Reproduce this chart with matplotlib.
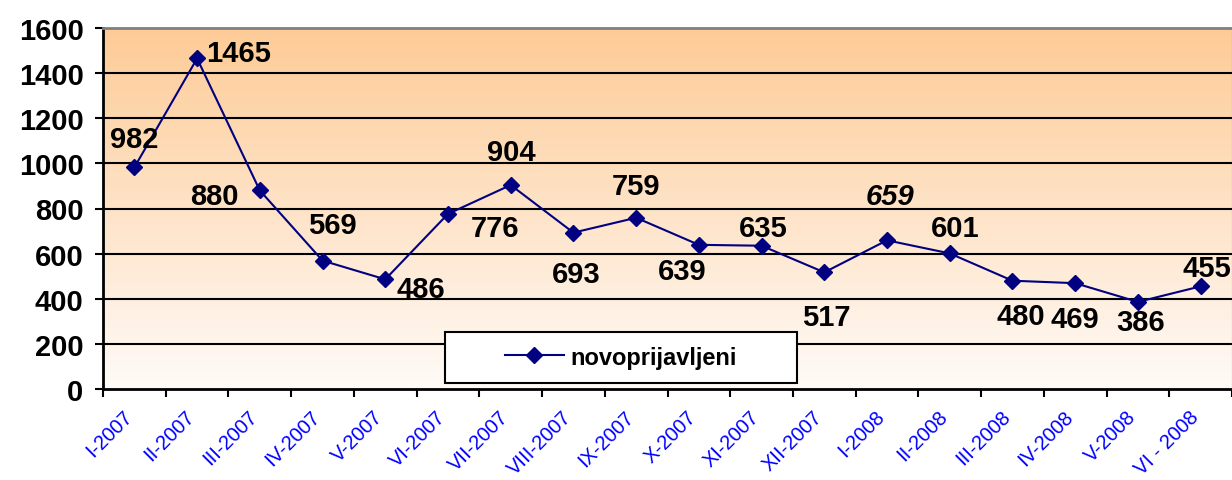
import numpy as np
import matplotlib
matplotlib.use("Agg")
import matplotlib.pyplot as plt
from matplotlib.colors import LinearSegmentedColormap
from matplotlib.patches import Rectangle
from matplotlib.transforms import ScaledTranslation

plt.rcParams['font.family'] = ['Liberation Sans', 'DejaVu Sans']

# data
months = ['I-2007', 'II-2007', 'III-2007', 'IV-2007', 'V-2007', 'VI-2007',
          'VII-2007', 'VIII-2007', 'IX-2007', 'X-2007', 'XI-2007', 'XII-2007',
          'I-2008', 'II-2008', 'III-2008', 'IV-2008', 'V-2008', 'VI - 2008']
values = [982, 1465, 880, 569, 486, 776, 904, 693, 759, 639, 635, 517,
          659, 601, 480, 469, 386, 455]
# label offsets in pixels (dx, dy up) from each point
offsets = [(0, 28), (41, 5), (-45, -6), (10, 36), (36, -10), (47, -14),
           (1, 33), (3, -41), (0, 32), (-17, -26), (2, 18), (2, -45),
           (3, 44), (5, 25), (8, -35), (0, -36), (3, -20), (6, 18)]

W, H = 1232, 481
fig = plt.figure(figsize=(W / 100, H / 100), dpi=100)
ax = fig.add_axes([103 / W, 1 - 390 / H, 1129 / W, 361 / H])

x = np.arange(len(values))
ax.set_xlim(-0.5, len(values) - 0.5)
ax.set_ylim(0, 1600)

# gradient background
cmap = LinearSegmentedColormap.from_list('bg', ['#FFFBF8', '#FDCB96'])
grad = np.linspace(0, 1, 256).reshape(-1, 1)
ax.imshow(grad, extent=[-0.5, len(values) - 0.5, 0, 1600], origin='lower',
          aspect='auto', cmap=cmap, zorder=0)

for yv in range(200, 1600, 200):
    ax.axhline(yv, color='black', lw=1.5, zorder=1)

ax.plot(x, values, color='#000080', lw=1.5, marker='D', markersize=8,
        label='novoprijavljeni', zorder=3)

for i, (v, (dx, dy)) in enumerate(zip(values, offsets)):
    style = 'italic' if i == 12 else 'normal'
    ax.annotate(str(v), (i, v), xytext=(dx, dy), textcoords='offset pixels',
                ha='center', va='center', fontsize=21, fontweight='bold',
                fontstyle=style, zorder=4)

ax.set_yticks(range(0, 1601, 200))
ax.set_yticklabels([str(t) for t in range(0, 1601, 200)], fontsize=21,
                   fontweight='bold')
ax.set_xticks(x)
ax.set_xticklabels(months, rotation=45, ha='right', va='top', color='blue',
                   fontsize=14.5, rotation_mode='anchor')
ax.set_xticks(np.arange(-0.5, len(values), 1), minor=True)
ax.tick_params(axis='x', which='major', length=0, pad=14)
ax.tick_params(axis='x', which='minor', length=6, width=1.5, direction='out')
ax.tick_params(axis='y', length=6, width=1.5, direction='out', pad=8)
shift = ScaledTranslation(-12 / 100, 2 / 100, fig.dpi_scale_trans)
for lab in ax.get_xticklabels():
    lab.set_transform(lab.get_transform() + shift)

for s in ['left', 'bottom']:
    ax.spines[s].set_linewidth(2)
ax.spines['top'].set_color('#808080')
ax.spines['top'].set_linewidth(2)
ax.spines['right'].set_color('#808080')

# legend box
ax.add_patch(Rectangle((445 / W, 1 - 384 / H), (797 - 445) / W, (384 - 333) / H,
                       transform=fig.transFigure, facecolor='white',
                       edgecolor='black', lw=1.5, zorder=5, clip_on=False))
leg = ax.legend(loc='center', bbox_to_anchor=(621 / W, 1 - 358 / H),
                bbox_transform=fig.transFigure, frameon=False,
                prop={'weight': 'bold', 'size': 17}, handlelength=2.5,
                handletextpad=0.3, borderaxespad=0)
leg.set_zorder(6)

fig.savefig('out.png', dpi=100)
